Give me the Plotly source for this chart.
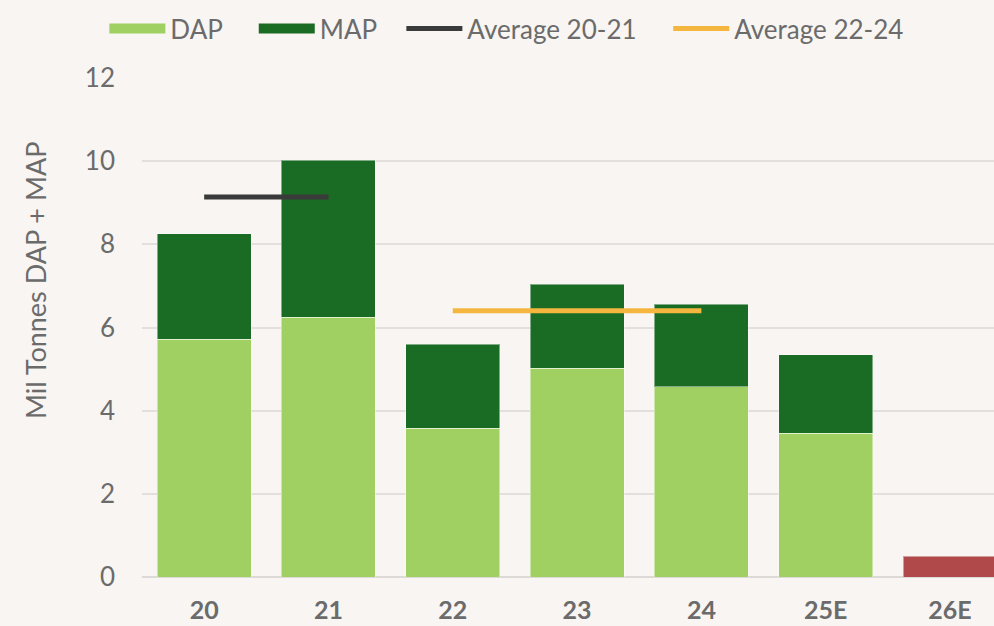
import plotly.graph_objects as go

categories = ["20", "21", "22", "23", "24", "25E", "26E"]
dap = [5.72, 6.25, 3.58, 5.02, 4.57, 3.46, None]
map_ = [2.53, 3.77, 2.02, 2.02, 1.99, 1.88, None]
forecast_26 = [None, None, None, None, None, None, 0.5]
avg_20_21_x = ["20", "21"]
avg_20_21_y = [9.14, 9.14]
avg_22_24_x = ["22", "24"]
avg_22_24_y = [6.40, 6.40]
y_ticks = [0, 2, 4, 6, 8, 10, 12]

FONT = "Lato, 'Open Sans', sans-serif"
GRAY = "#6b6b6b"
BG = "#f8f5f2"
C_DAP = "#a0cf62"
C_MAP = "#1a6b24"
C_A1 = "#3a3a3a"
C_A2 = "#f4b63f"
EDGE = dict(color="rgba(255,255,255,0.45)", width=1)
NB = "\u00a0"

fig = go.Figure()
fig.add_trace(go.Bar(x=categories, y=dap, name="DAP", legendgroup="dap", showlegend=False,
                     marker=dict(color=C_DAP, line=EDGE)))
fig.add_trace(go.Bar(x=categories, y=map_, name="MAP", legendgroup="map", showlegend=False,
                     marker=dict(color=C_MAP, line=EDGE)))
fig.add_trace(go.Bar(x=categories, y=forecast_26, name="26E", showlegend=False,
                     marker=dict(color="#b04a4a", line=EDGE)))
fig.add_trace(go.Scatter(x=avg_20_21_x, y=avg_20_21_y, mode="lines", name="Average 20-21",
                         showlegend=False, legendgroup="a1", line=dict(color=C_A1, width=5)))
fig.add_trace(go.Scatter(x=avg_22_24_x, y=avg_22_24_y, mode="lines", name="Average 22-24",
                         showlegend=False, legendgroup="a2", line=dict(color=C_A2, width=5)))

# legend entries (wide swatches like the original)
legend_entries = [("DAP" + NB * 4, C_DAP, 15, "dap"), ("MAP" + NB * 3, C_MAP, 15, "map"),
                  ("Average 20-21" + NB * 4, C_A1, 5, "a1"), ("Average 22-24", C_A2, 5, "a2")]
for label, color, w, grp in legend_entries:
    fig.add_trace(go.Scatter(x=[None], y=[None], mode="lines", name=label, legendgroup=grp,
                             line=dict(color=color, width=w)))

fig.add_annotation(text="Mil Tonnes DAP + MAP", textangle=-90, showarrow=False,
                   xref="paper", yref="paper", x=-0.1256, y=0.595, xanchor="center", yanchor="middle",
                   font=dict(size=27, color=GRAY, family=FONT))

fig.update_layout(
    width=994, height=626,
    barmode="stack", bargap=0.244,
    paper_bgcolor=BG, plot_bgcolor=BG,
    font=dict(family=FONT, size=26, color=GRAY),
    margin=dict(l=142, r=0, t=78, b=49, autoexpand=False),
    legend=dict(orientation="h", xref="container", yref="container", x=0.105, y=0.992,
                xanchor="left", yanchor="top", font=dict(size=26, color=GRAY),
                itemwidth=56, traceorder="normal", bgcolor="rgba(0,0,0,0)"),
    xaxis=dict(type="category", categoryorder="array", categoryarray=categories,
               range=[-0.5, 6.354], showgrid=False, showline=False, ticks="",
               ticklabelstandoff=16,
               tickfont=dict(family=FONT, size=25, color=GRAY, weight="bold")),
    yaxis=dict(range=[0, 12], tickvals=y_ticks, showgrid=True, gridcolor="#e2dfdc", gridwidth=1.5,
               zeroline=True, zerolinecolor="#dcd9d6", zerolinewidth=1.5, ticks="",
               ticklabelstandoff=26,
               tickfont=dict(size=26, color=GRAY)),
)

fig.write_html("out.html", config={"displayModeBar": False},
               post_script="document.body.style.margin='0';document.body.style.overflow='hidden';"
                           "document.body.style.background='" + BG + "';")
